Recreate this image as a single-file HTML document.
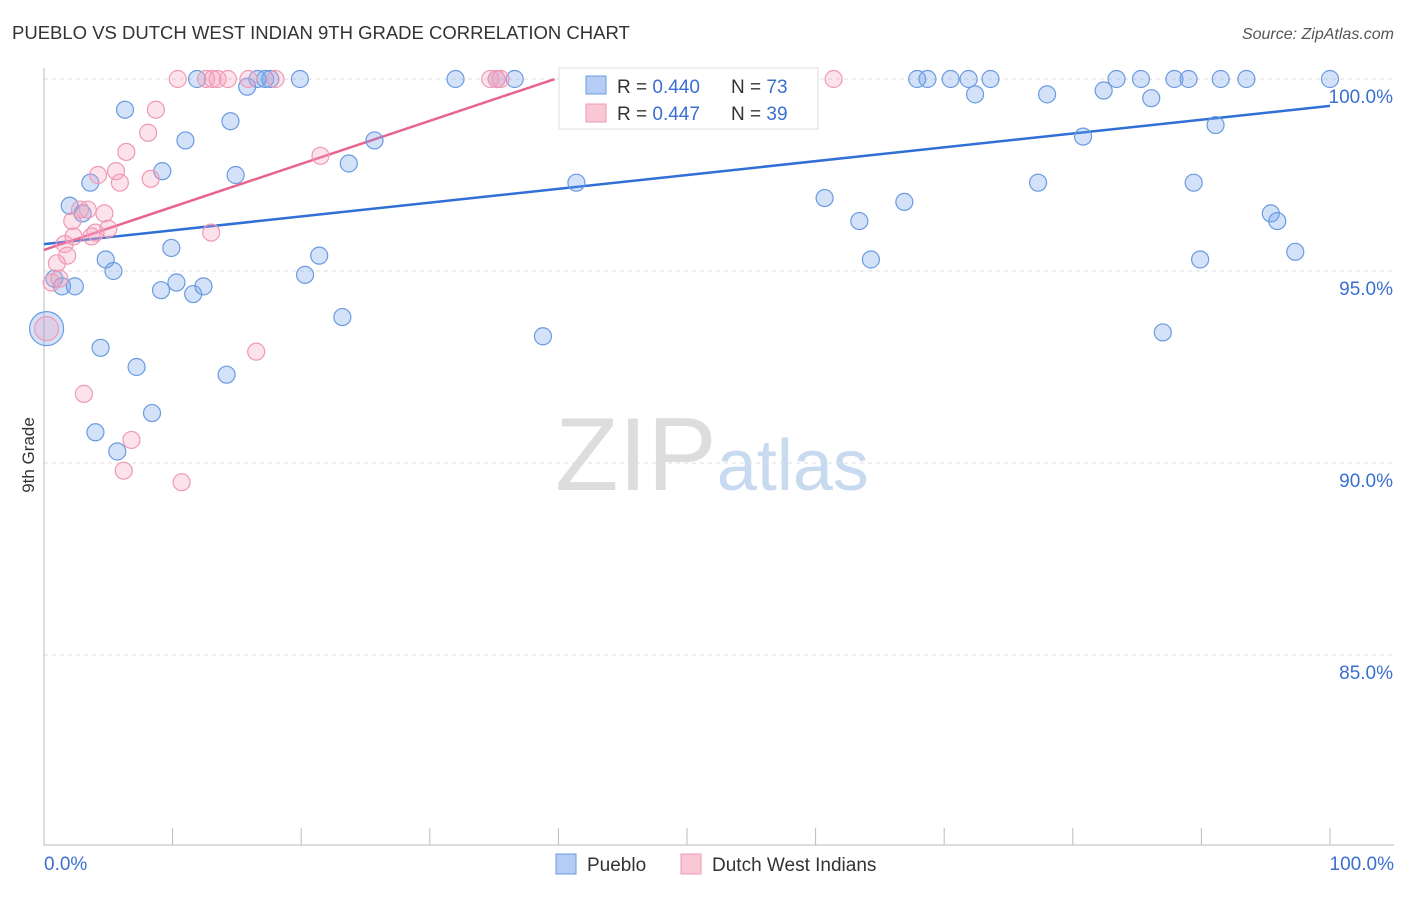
<!DOCTYPE html>
<html><head><meta charset="utf-8"><style>
body{margin:0;background:#fff;font-family:"Liberation Sans",sans-serif;}
svg text{font-family:"Liberation Sans",sans-serif;}
</style></head><body>
<svg id="chart" width="1406" height="892">
<text x="12" y="39" font-size="18.5" fill="#333">PUEBLO VS DUTCH WEST INDIAN 9TH GRADE CORRELATION CHART</text>
<text x="1394" y="39" font-size="16" fill="#555" font-style="italic" text-anchor="end">Source: ZipAtlas.com</text>
<text x="34" y="455" font-size="17" fill="#333" transform="rotate(-90 34 455)" text-anchor="middle">9th Grade</text>
<text x="555" y="490" font-size="104" fill="#ddd" font-family="Liberation Serif">ZIP<tspan fill="#c8daf0" font-family="Liberation Sans" font-size="72">atlas</tspan></text>
<g id="grid"></g><g id="axes"></g><g id="trend"></g><g id="pts"></g>
<g>
<rect x="559" y="68" width="259" height="61" fill="#fff" stroke="#ddd"/>
<rect x="586" y="76" width="20" height="18" fill="#b5cdf2" stroke="#6a9be0"/>
<text x="617" y="93" font-size="19" fill="#333">R = <tspan fill="#3a6fd0">0.440</tspan></text>
<text x="731" y="93" font-size="19" fill="#333">N = <tspan fill="#3a6fd0">73</tspan></text>
<rect x="586" y="104" width="20" height="18" fill="#f8c8d6" stroke="#ee9ab4"/>
<text x="617" y="120" font-size="19" fill="#333">R = <tspan fill="#3a6fd0">0.447</tspan></text>
<text x="731" y="120" font-size="19" fill="#333">N = <tspan fill="#3a6fd0">39</tspan></text>
</g>
<g>
<rect x="556" y="854" width="20" height="20" fill="#b5cdf2" stroke="#6a9be0"/>
<text x="587" y="871" font-size="19" fill="#333">Pueblo</text>
<rect x="681" y="854" width="20" height="20" fill="#f8c8d6" stroke="#ee9ab4"/>
<text x="712" y="871" font-size="19" fill="#333">Dutch West Indians</text>
</g>
</svg>
<script>
const blueX=[11.9,16.6,17.2,17.6,19.9,32.0,35.2,36.6,42.2,45.7,47.0,67.9,68.7,70.5,71.9,73.6,83.4,85.3,87.9,89.0,91.5,93.5,100,
15.8,72.4,78.0,82.4,86.1,6.3,14.5,11.0,25.7,80.8,91.1,23.7,9.2,14.9,3.6,41.4,77.3,89.4,
2.0,3.0,60.7,66.9,63.4,95.4,95.9,9.9,21.4,4.8,5.4,20.3,97.3,64.3,89.9,
0.8,1.4,2.4,9.1,10.3,11.6,12.4,23.2,38.8,87.0,0.2,4.4,7.2,14.2,8.4,4.0,5.7];
const blueY=[100,100,100,100,100,100,100,100,100,100,100,100,100,100,100,100,100,100,100,100,100,100,100,
99.8,99.6,99.6,99.7,99.5,99.2,98.9,98.4,98.4,98.5,98.8,97.8,97.6,97.5,97.3,97.3,97.3,97.3,
96.7,96.5,96.9,96.8,96.3,96.5,96.3,95.6,95.4,95.3,95.0,94.9,95.5,95.3,95.3,
94.8,94.6,94.6,94.5,94.7,94.4,94.6,93.8,93.3,93.4,93.5,93.0,92.5,92.3,91.3,90.8,90.3];
const blueSize=blueX.map((v,i)=>i===66?17:8.5);
const pinkX=[10.4,12.6,13.1,13.5,14.3,15.9,18.0,34.7,35.2,35.5,61.4,
8.7,8.1,6.4,21.5,4.2,5.6,8.3,5.9,2.8,3.4,4.7,2.2,5.0,4.0,3.7,2.3,1.6,1.8,1.0,0.6,1.2,
13.0,16.5,3.1,6.8,6.2,10.7,0.2];
const pinkY=[100,100,100,100,100,100,100,100,100,100,100,
99.2,98.6,98.1,98.0,97.5,97.6,97.4,97.3,96.6,96.6,96.5,96.3,96.1,96.0,95.9,95.9,95.7,95.4,95.2,94.7,94.8,
96.0,92.9,91.8,90.6,89.8,89.5,93.5];
const pinkSize=pinkX.map((v,i)=>i===38?12:8.5);
const trendIntercept=[95.7,95.55];
const trendEnd=[100,39.7];
const trendSlope=[0.036,0.112];
const yTicks=[100,95,90,85];
const xTickLabels=["0.0%","100.0%"];

const NS="http://www.w3.org/2000/svg";
const X0=44,X1=1330,Y100=79,PX=38.4;
const sx=v=>X0+(X1-X0)*v/100;
const sy=v=>Y100+(100-v)*PX;
function mk(t,a,p){const e=document.createElementNS(NS,t);for(const k in a)e.setAttribute(k,a[k]);p.appendChild(e);return e;}
const grid=document.getElementById('grid'),axes=document.getElementById('axes');
yTicks.forEach(t=>{
 const l=mk('line',{x1:X0,x2:1394,y1:sy(t),y2:sy(t),stroke:'#ddd','stroke-dasharray':'4,4'},grid);
 
 
 const tx=mk('text',{x:1393,y:sy(t)+24,'font-size':19,fill:'#3a6fd0','text-anchor':'end'},axes);
 tx.textContent=t.toFixed(1)+'%';
 
 
});
const ya=mk('line',{x1:X0,x2:X0,y1:68,y2:845,stroke:'#bbb'},axes);


const xa=mk('line',{x1:X0,x2:1394,y1:845,y2:845,stroke:'#bbb'},axes);


for(let i=0;i<=10;i++){const l=mk('line',{x1:sx(i*10),x2:sx(i*10),y1:828,y2:845,stroke:'#bbb'},axes);
 
 }
[[0,'start',44],[1,'end',1394]].forEach(([i,a,x])=>{const t=mk('text',{x:x,y:870,'font-size':19,fill:'#3a6fd0','text-anchor':a},axes);t.textContent=xTickLabels[i];
 
 });
const pts=document.getElementById('pts');
function series(xs,ys,sz,fill,stroke,name){xs.forEach((x,i)=>{const c=mk('circle',{cx:sx(x),cy:sy(ys[i]),r:sz[i],fill:fill,stroke:stroke,'stroke-width':1.2},pts);
 
 });}
series(blueX,blueY,blueSize,'rgba(110,160,235,0.3)','#6a9be0','pueblo-point');
series(pinkX,pinkY,pinkSize,'rgba(245,160,190,0.3)','#ee9ab4','dutch-west-indian-point');
const tr=document.getElementById('trend');
['#2f6fd6','#e8648e'].forEach((c,i)=>{const l=mk('line',{x1:sx(0),y1:sy(trendIntercept[i]),x2:sx(trendEnd[i]),y2:sy(trendIntercept[i]+trendSlope[i]*trendEnd[i]),stroke:c,'stroke-width':2.5},tr);
 
 });
</script>
</body></html>
